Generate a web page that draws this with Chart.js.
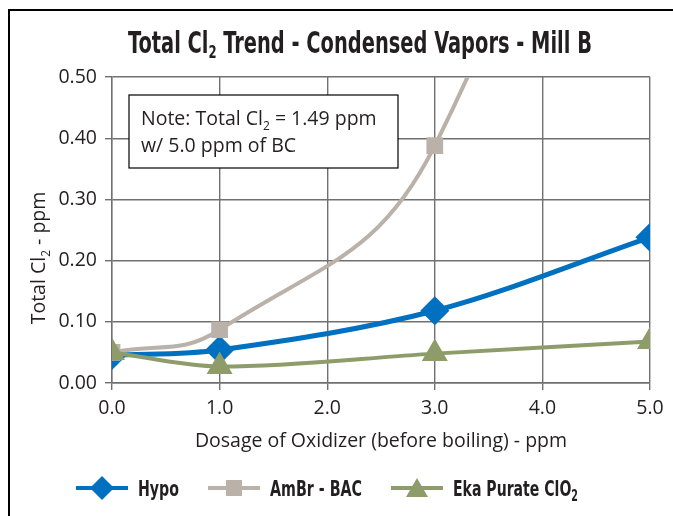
<!DOCTYPE html>
<html>
<head>
<meta charset="utf-8">
<script src="https://cdn.jsdelivr.net/npm/chart.js@4.4.1/dist/chart.umd.min.js"></script>
<style>
  html, body { margin: 0; padding: 0; background: #fff; }
  #wrap { width: 673px; height: 516px; }
</style>
</head>
<body>
<div id="wrap"><canvas id="cl2Chart" width="673" height="516"></canvas></div>
<script>
// values
const doses = [0, 1, 3, 5];
const hypo = [0.045, 0.054, 0.118, 0.238];
const ambrBac = [0.050, 0.087, 0.388, 1.49];
const ekaClo2 = [0.050, 0.027, 0.048, 0.068];
const yTicks = [0, 0.1, 0.2, 0.3, 0.4, 0.5];

const BLUE = '#0070c0';
const TAUPE = '#bab1a8';
const OLIVE = '#8e9c69';
const GRID = '#707070';
const TXT = '#231f20';
const BODY_FONT = '"Open Sans", sans-serif';
const COND = '"DejaVu Sans Condensed", "DejaVu Sans", sans-serif';

function toPoints(ys) {
    return doses.map((x, i) => ({ x: x, y: ys[i] }));
}

// draws text (with optional subscript parts), squeezed to a target width if given
function squeezedText(ctx, parts, x, y, font, subFont, width, align) {
    let w = 0;
    parts.forEach(p => { ctx.font = p[1] ? subFont : font; w += ctx.measureText(p[0]).width; });
    const sx = width ? width / w : 1;
    let left = align === 'center' ? x - (w * sx) / 2 : x;
    ctx.save();
    ctx.translate(left, y);
    ctx.scale(sx, 1);
    let cx = 0;
    parts.forEach(p => {
        ctx.font = p[1] ? subFont : font;
        ctx.fillText(p[0], cx, p[1] ? 5 : 0);
        cx += ctx.measureText(p[0]).width;
    });
    ctx.restore();
    return w * sx;
}

function drawIcon(ctx, x, y, color, shape) {
    ctx.save();
    ctx.strokeStyle = color; ctx.lineWidth = 4;
    ctx.beginPath(); ctx.moveTo(x, y); ctx.lineTo(x + 52, y); ctx.stroke();
    ctx.fillStyle = color;
    const c = x + 26;
    ctx.beginPath();
    if (shape === 'diamond') { ctx.moveTo(c, y - 12); ctx.lineTo(c + 12, y); ctx.lineTo(c, y + 12); ctx.lineTo(c - 12, y); }
    else if (shape === 'square') { ctx.rect(c - 8, y - 8, 16, 16); }
    else { ctx.moveTo(c, y - 10); ctx.lineTo(c + 11, y + 9); ctx.lineTo(c - 11, y + 9); }
    ctx.closePath(); ctx.fill();
    ctx.restore();
}

const decorPlugin = {
    id: 'decor',
    afterDraw(chart) {
        const ctx = chart.ctx;
        ctx.save();
        // outer frame
        ctx.strokeStyle = '#000'; ctx.lineWidth = 2;
        ctx.beginPath(); ctx.moveTo(9, 520); ctx.lineTo(9, 10); ctx.lineTo(680, 10); ctx.stroke();
        // title
        ctx.fillStyle = TXT; ctx.textBaseline = 'alphabetic';
        squeezedText(ctx, [['Total Cl', false], ['2', true], [' Trend - Condensed Vapors - Mill B', false]],
            360, 53, 'bold 30px ' + COND, 'bold 18px ' + COND, 464, 'center');
        // y axis title, rotated
        ctx.save();
        ctx.translate(45, 258);
        ctx.rotate(-Math.PI / 2);
        squeezedText(ctx, [['Total Cl', false], ['2', true], [' - ppm', false]],
            0, 0, '19.5px ' + BODY_FONT, '12px ' + BODY_FONT, 0, 'center');
        ctx.restore();
        // note box
        ctx.fillStyle = '#fff';
        ctx.fillRect(129, 95, 269, 73);
        ctx.strokeStyle = '#000'; ctx.lineWidth = 1.2;
        ctx.strokeRect(129, 95, 269, 73);
        ctx.fillStyle = TXT;
        squeezedText(ctx, [['Note: Total Cl', false], ['2', true], [' = 1.49 ppm', false]],
            141, 125, '19.5px ' + BODY_FONT, '12px ' + BODY_FONT, 0, 'left');
        squeezedText(ctx, [['w/ 5.0 ppm of BC', false]], 141, 152, '19.5px ' + BODY_FONT, '', 0, 'left');
        // legend: line + marker, then bold label
        const items = [
            [chart.data.datasets[0], 'diamond', 41],
            [chart.data.datasets[1], 'square', 92],
            [chart.data.datasets[2], 'triangle', 125]
        ];
        let x = 76;
        const ly = 488;
        items.forEach(([ds, shape, w]) => {
            drawIcon(ctx, x, ly, ds.borderColor, shape);
            x += 62;
            const parts = ds.label.endsWith('ClO2') ? [['Eka Purate ClO', false], ['2', true]] : [[ds.label, false]];
            ctx.fillStyle = TXT;
            squeezedText(ctx, parts, x, ly + 8, 'bold 22px ' + COND, 'bold 15px ' + COND, w, 'left');
            x += w + 29;
        });
        ctx.restore();
    }
};

const ctx = document.getElementById('cl2Chart').getContext('2d');
const chart = new Chart(ctx, {
    type: 'line',
    data: {
        datasets: [
            { label: 'Hypo', data: toPoints(hypo), borderColor: BLUE, backgroundColor: BLUE, borderWidth: 5,
              pointStyle: 'rectRot', pointRadius: 11, pointHoverRadius: 11, tension: 0.33, order: 3 },
            { label: 'AmBr - BAC', data: toPoints(ambrBac), borderColor: TAUPE, backgroundColor: TAUPE, borderWidth: 4,
              pointStyle: 'rect', pointRadius: 9, pointHoverRadius: 9, tension: 0.45, order: 2 },
            { label: 'Eka Purate ClO2', data: toPoints(ekaClo2), borderColor: OLIVE, backgroundColor: OLIVE, borderWidth: 4,
              pointStyle: 'triangle', pointRadius: 11, pointHoverRadius: 11, tension: 0.33, order: 1 }
        ]
    },
    options: {
        responsive: false,
        animation: false,
        layout: { padding: { left: 0, right: 23, top: 77, bottom: 53 } },
        plugins: {
            tooltip: { enabled: false },
            legend: { display: false }
        },
        scales: {
            x: {
                type: 'linear', min: 0, max: 5,
                afterFit(s) { s.height = 80; },
                ticks: { stepSize: 1, padding: 7, color: TXT, font: { family: BODY_FONT, size: 19.5 },
                         callback: v => v.toFixed(1) },
                grid: { color: GRID, lineWidth: 1.4, tickLength: 7, tickColor: GRID },
                border: { color: GRID, width: 1.4 },
                title: { display: true, text: 'Dosage of Oxidizer (before boiling) - ppm', color: TXT,
                         font: { family: BODY_FONT, size: 19.5 }, padding: { top: 0, bottom: 10 } }
            },
            y: {
                min: 0, max: 0.5,
                afterFit(s) { s.width = 112; },
                afterBuildTicks(s) { s.ticks = yTicks.map(v => ({ value: v })); },
                ticks: { padding: 8, color: TXT, font: { family: BODY_FONT, size: 19.5 },
                         callback: v => v.toFixed(2) },
                grid: { color: GRID, lineWidth: 1.4, tickLength: 7, tickColor: GRID },
                border: { color: GRID, width: 1.4 }
            }
        }
    },
    plugins: [decorPlugin]
});
</script>
</body>
</html>
